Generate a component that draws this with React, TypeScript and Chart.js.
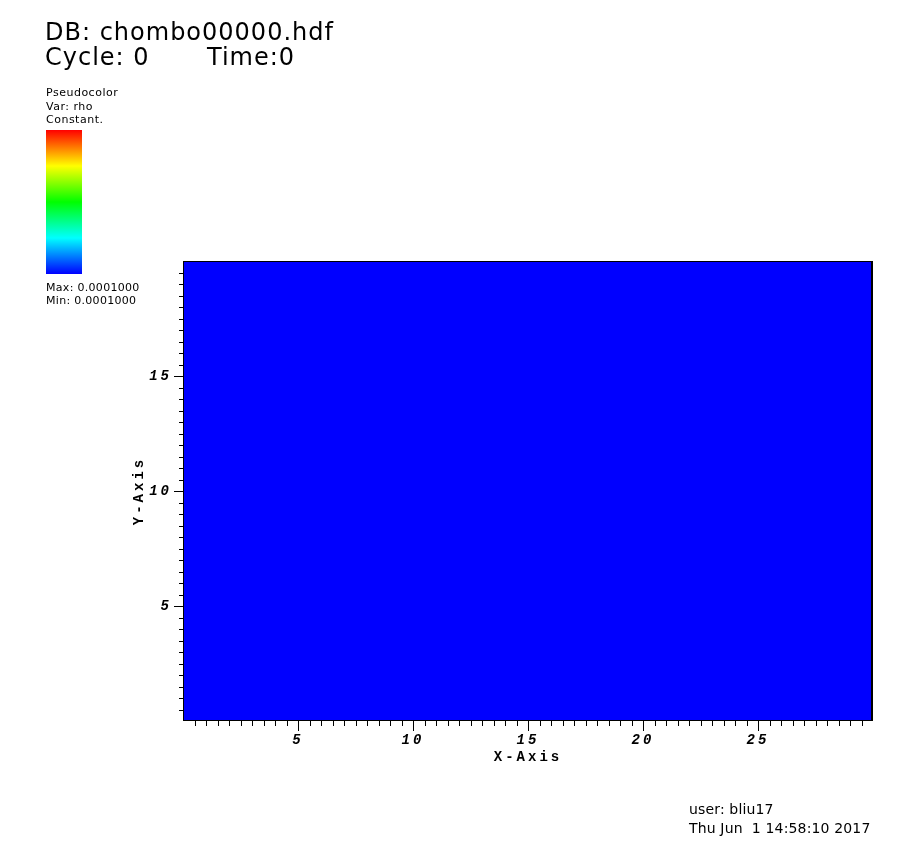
import React, { useEffect, useRef } from 'react';
import { Chart, registerables } from 'chart.js';

Chart.register(...registerables);

// ---- data ----
const xRange = [0, 30];
const yRange = [0, 20];
const cellX = [0, 30];
const cellTop = [20, 20];
const rhoMin = 0.0001;
const rhoMax = 0.0001;
const tickStep = 0.5;
const majorStep = 5;
const xTickLabels = [5, 10, 15, 20, 25];
const yTickLabels = [5, 10, 15];
const colorTableStops = ['#0000ff', '#00ffff', '#00ff00', '#ffff00', '#ff0000'];
const dbName = 'chombo00000.hdf';
const cycle = 0;
const time = 0;
const plotType = 'Pseudocolor';
const varName = 'rho';
const userName = 'bliu17';
const timestamp = 'Thu Jun  1 14:58:10 2017';
const xTitle = 'X-Axis';
const yTitle = 'Y-Axis';

const cellColor = '#0000ff';
const axisFont = { family: "'Liberation Mono', 'DejaVu Sans Mono', monospace", size: 14, style: 'italic' as const, weight: 'bold' as const };
const titleFont = { family: "'Liberation Mono', 'DejaVu Sans Mono', monospace", size: 14, weight: 'bold' as const };

const isMajor = (v: number) => Math.abs(v / majorStep - Math.round(v / majorStep)) < 1e-9;

const framePlugin = {
  id: 'visitFrame',
  beforeDraw(chart: any) {
    chart.ctx.letterSpacing = '3px';
  },
  afterDraw(chart: any) {
    const { ctx, scales } = chart;
    const xs = scales.x;
    const ys = scales.y;
    ctx.save();
    ctx.letterSpacing = '0px';
    const left = Math.round(xs.getPixelForValue(xRange[0]));
    const right = Math.round(xs.getPixelForValue(xRange[1]));
    const top = Math.round(ys.getPixelForValue(yRange[1]));
    const bottom = Math.round(ys.getPixelForValue(yRange[0]));
    ctx.strokeStyle = '#000';
    ctx.fillStyle = '#000';
    ctx.lineWidth = 1;
    ctx.beginPath();
    for (const t of xs.ticks) {
      if (t.value <= xRange[0] || t.value >= xRange[1]) continue;
      const px = Math.round(xs.getPixelForValue(t.value)) + 0.5;
      const len = isMajor(t.value) ? 10 : 5;
      ctx.moveTo(px, bottom);
      ctx.lineTo(px, bottom + len);
    }
    for (const t of ys.ticks) {
      if (t.value <= yRange[0] || t.value >= yRange[1]) continue;
      const py = Math.round(ys.getPixelForValue(t.value)) + 0.5;
      const len = isMajor(t.value) ? 9 : 4;
      ctx.moveTo(left, py);
      ctx.lineTo(left - len, py);
    }
    ctx.stroke();
    ctx.strokeRect(left + 0.5, top + 0.5, right - left - 1, bottom - top - 1);
    ctx.fillRect(right - 2, top, 2, bottom - top);
    ctx.restore();
  },
};

function Txt(props: { x: number; baseline: number; size: number; ls?: number; text: string }) {
  const { x, baseline, size, ls = 0, text } = props;
  return (
    <div
      style={{
        position: 'absolute',
        left: x,
        top: baseline - 0.846 * size,
        fontFamily: "'DejaVu Sans', sans-serif",
        fontSize: size,
        lineHeight: `${size}px`,
        letterSpacing: ls,
        whiteSpace: 'pre',
        color: '#000',
      }}
    >
      {text}
    </div>
  );
}

export default function App() {
  const ref = useRef<HTMLCanvasElement | null>(null);

  useEffect(() => {
    if (!ref.current) return;
    const chart = new Chart(ref.current, {
      type: 'line',
      data: {
        datasets: [
          {
            label: varName,
            data: cellX.map((x, i) => ({ x, y: cellTop[i] })),
            fill: 'origin',
            backgroundColor: cellColor,
            borderColor: cellColor,
            borderWidth: 0,
            pointRadius: 0,
            tension: 0,
          },
        ],
      },
      options: {
        responsive: false,
        animation: false,
        events: [],
        layout: { padding: { top: 261, right: 47, bottom: 67, left: 0 } },
        plugins: { legend: { display: false }, tooltip: { enabled: false } },
        scales: {
          x: {
            type: 'linear',
            min: xRange[0],
            max: xRange[1],
            afterFit: (s: any) => {
              s.height = 60;
            },
            grid: { display: false, drawTicks: false },
            border: { display: false },
            ticks: {
              stepSize: tickStep,
              autoSkip: false,
              maxTicksLimit: 1000,
              maxRotation: 0,
              minRotation: 0,
              padding: 11,
              color: '#000',
              font: axisFont,
              callback: (v: any) => (xTickLabels.includes(Number(v)) ? String(v) : ''),
            },
            title: { display: true, text: xTitle, color: '#000', font: titleFont, padding: { top: 0, bottom: 15 } },
          },
          y: {
            type: 'linear',
            position: 'left',
            min: yRange[0],
            max: yRange[1],
            afterFit: (s: any) => {
              s.width = 183;
            },
            grid: { display: false, drawTicks: false },
            border: { display: false },
            ticks: {
              stepSize: tickStep,
              autoSkip: false,
              maxTicksLimit: 1000,
              padding: 11,
              color: '#000',
              font: axisFont,
              callback: (v: any) => (yTickLabels.includes(Number(v)) ? String(v) : ''),
            },
            title: { display: true, text: yTitle, color: '#000', font: titleFont, padding: { top: 131, bottom: 0 } },
          },
        },
      },
      plugins: [framePlugin],
    } as any);
    return () => chart.destroy();
  }, []);

  const gradient = `linear-gradient(to top, ${colorTableStops
    .map((c, i) => `${c} ${(i / (colorTableStops.length - 1)) * 100}%`)
    .join(', ')})`;

  return (
    <div style={{ position: 'absolute', left: 0, top: 0, width: 920, height: 848, background: '#fff', overflow: 'hidden' }}>
      <canvas ref={ref} width={920} height={848} style={{ position: 'absolute', left: 0, top: 0, width: 920, height: 848 }} />
      <Txt x={45} baseline={40} size={24} ls={1} text={`DB: ${dbName}`} />
      <Txt x={45} baseline={65} size={24} ls={1} text={`Cycle: ${cycle}`} />
      <Txt x={207} baseline={65} size={24} ls={1} text={`Time:${time}`} />
      <Txt x={46} baseline={96.5} size={11} ls={0.5} text={plotType} />
      <Txt x={46} baseline={110} size={11} ls={0.5} text={`Var: ${varName}`} />
      <Txt x={46} baseline={123} size={11} ls={0.5} text={rhoMin === rhoMax ? 'Constant.' : ''} />
      <div style={{ position: 'absolute', left: 46, top: 130, width: 36, height: 144, background: gradient }} />
      <Txt x={46} baseline={291} size={11} ls={0.3} text={`Max: ${rhoMax.toFixed(7)}`} />
      <Txt x={46} baseline={304} size={11} ls={0.3} text={`Min: ${rhoMin.toFixed(7)}`} />
      <Txt x={689} baseline={814} size={14} ls={0.15} text={`user: ${userName}`} />
      <Txt x={689} baseline={833} size={14} ls={0.15} text={timestamp} />
    </div>
  );
}
